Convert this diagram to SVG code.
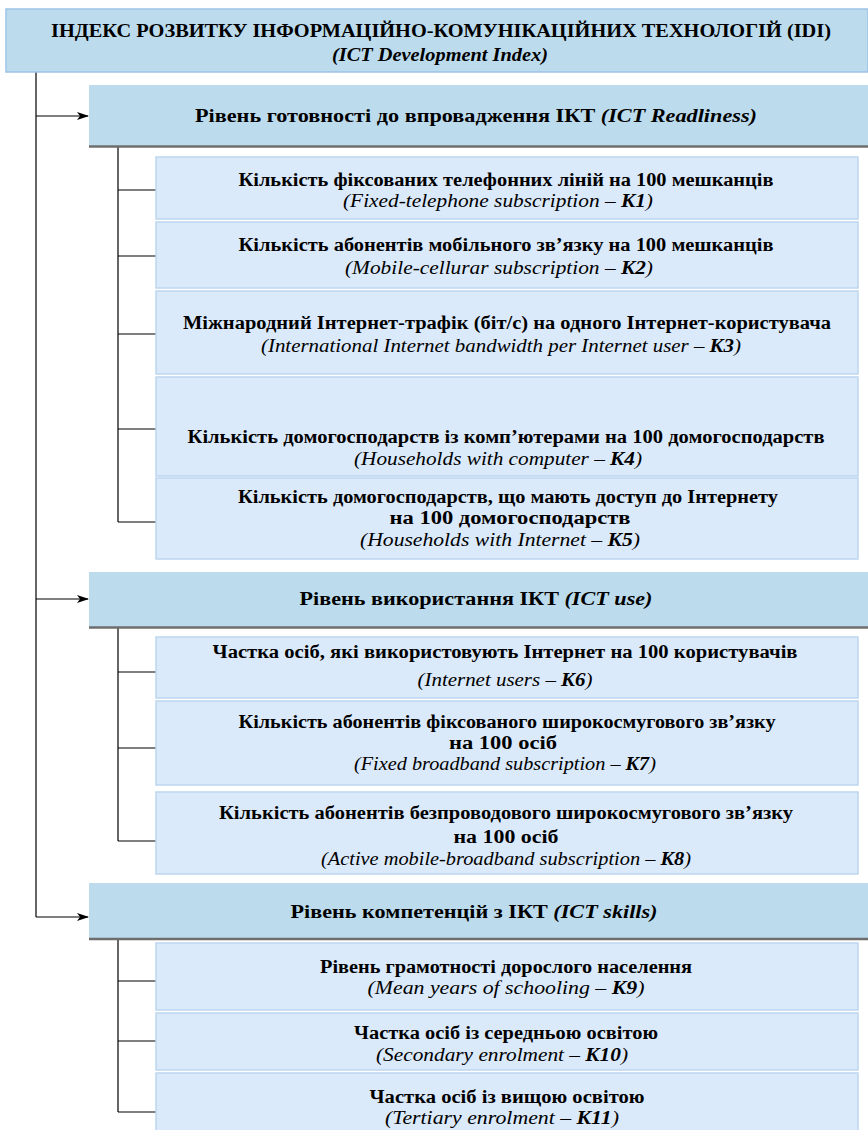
<svg xmlns="http://www.w3.org/2000/svg" width="868" height="1130" viewBox="0 0 868 1130" font-family="Liberation Serif, Times New Roman, DejaVu Serif, serif">
<style>
text{font-size:18px;fill:#000;text-anchor:middle}
.b{font-weight:bold}
.i{font-style:italic}
.top{fill:#bcdcee;stroke:#9cc3e6;stroke-width:1.5}
.lvl{fill:#bcdcee}
.sh{stroke:#6e6e6e;stroke-width:2.5}
.item{fill:#dbeafb;stroke:#bdd6ef;stroke-width:1.5}
.c{stroke:#000;stroke-width:1.2;fill:none}
</style>
<defs>
<marker id="ah" markerUnits="userSpaceOnUse" markerWidth="12" markerHeight="8" refX="11" refY="4" orient="auto">
<path d="M0,0 L12,4 L0,8 L3,4 z" fill="#000"/>
</marker>
</defs>
<rect width="868" height="1130" fill="#fff"/>

<g id="connectors">
<path class="c" d="M36,72 V917"/>
<path class="c" d="M36,116 H88" marker-end="url(#ah)"/>
<path class="c" d="M36,599 H88" marker-end="url(#ah)"/>
<path class="c" d="M36,917 H88" stroke="#555" marker-end="url(#ah)"/>
<path class="c" d="M118,147 V522 M118,190 H156 M118,256 H156 M118,334 H156 M118,429 H156 M118,522 H156"/>
<path class="c" d="M118,628 V841 M118,672 H156 M118,748 H156 M118,841 H156"/>
<path class="c" d="M118,940 V1112 M118,981 H156 M118,1041 H156 M118,1112 H156"/>
</g>

<g id="idi">
<rect class="top" x="6" y="9" width="862" height="63"/>
<text class="b" x="441" y="37" font-family="Liberation Serif, serif" textLength="780" lengthAdjust="spacingAndGlyphs">ІНДЕКС РОЗВИТКУ ІНФОРМАЦІЙНО-КОМУНІКАЦІЙНИХ ТЕХНОЛОГІЙ (IDI)</text>
<text class="b i" x="440" y="61" font-family="Liberation Serif, serif" textLength="216" lengthAdjust="spacingAndGlyphs">(ICT Development Index)</text>
</g>

<g id="readiness">
<rect class="lvl" x="89" y="85" width="779" height="61"/>
<line class="sh" x1="89" y1="146.5" x2="868" y2="146.5"/>
<text class="b" x="476" y="122" textLength="562" lengthAdjust="spacingAndGlyphs">Рівень готовності до впровадження ІКТ <tspan class="i">(ICT Readliness)</tspan></text>
</g>

<g id="k1">
<rect class="item" x="156" y="157" width="702" height="62"/>
<text class="b" x="506" y="186" textLength="535" lengthAdjust="spacingAndGlyphs">Кількість фіксованих телефонних ліній на 100 мешканців</text>
<text class="i" x="498" y="207" textLength="310" lengthAdjust="spacingAndGlyphs">(Fixed-telephone subscription – <tspan class="b">K1</tspan>)</text>
</g>

<g id="k2">
<rect class="item" x="156" y="222" width="702" height="66"/>
<text class="b" x="506" y="251" textLength="535" lengthAdjust="spacingAndGlyphs">Кількість абонентів мобільного зв’язку на 100 мешканців</text>
<text class="i" x="499" y="274" textLength="308" lengthAdjust="spacingAndGlyphs">(Mobile-cellurar subscription – <tspan class="b">K2</tspan>)</text>
</g>

<g id="k3">
<rect class="item" x="156" y="291" width="702" height="83"/>
<text class="b" x="507" y="329" textLength="648" lengthAdjust="spacingAndGlyphs">Міжнародний Інтернет-трафік (біт/с) на одного Інтернет-користувача</text>
<text class="i" x="501" y="352" textLength="480" lengthAdjust="spacingAndGlyphs">(International Internet bandwidth per Internet user – <tspan class="b">K3</tspan>)</text>
</g>

<g id="k4">
<rect class="item" x="156" y="377" width="702" height="99"/>
<text class="b" x="506" y="443" textLength="637" lengthAdjust="spacingAndGlyphs">Кількість домогосподарств із комп’ютерами на 100 домогосподарств</text>
<text class="i" x="498" y="465" textLength="288" lengthAdjust="spacingAndGlyphs">(Households with computer – <tspan class="b">K4</tspan>)</text>
</g>

<g id="k5">
<rect class="item" x="156" y="478" width="702" height="81"/>
<text class="b" x="508" y="503" textLength="540" lengthAdjust="spacingAndGlyphs">Кількість домогосподарств, що мають доступ до Інтернету</text>
<text class="b" x="510" y="524" textLength="241" lengthAdjust="spacingAndGlyphs">на 100 домогосподарств</text>
<text class="i" x="500" y="546" textLength="280" lengthAdjust="spacingAndGlyphs">(Households with Internet – <tspan class="b">K5</tspan>)</text>
</g>

<g id="use">
<rect class="lvl" x="89" y="572" width="779" height="55"/>
<line class="sh" x1="89" y1="627.5" x2="868" y2="627.5"/>
<text class="b" x="476" y="605" textLength="353" lengthAdjust="spacingAndGlyphs">Рівень використання ІКТ <tspan class="i">(ICT use)</tspan></text>
</g>

<g id="k6">
<rect class="item" x="156" y="637" width="702" height="61"/>
<text class="b" x="505" y="658" textLength="585" lengthAdjust="spacingAndGlyphs">Частка осіб, які використовують Інтернет на 100 користувачів</text>
<text class="i" x="505" y="686" textLength="175" lengthAdjust="spacingAndGlyphs">(Internet users – <tspan class="b">K6</tspan>)</text>
</g>

<g id="k7">
<rect class="item" x="156" y="701" width="702" height="84"/>
<text class="b" x="507" y="728" textLength="537" lengthAdjust="spacingAndGlyphs">Кількість абонентів фіксованого широкосмугового зв’язку</text>
<text class="b" x="503" y="749" textLength="108" lengthAdjust="spacingAndGlyphs">на 100 осіб</text>
<text class="i" x="505" y="770" textLength="302" lengthAdjust="spacingAndGlyphs">(Fixed broadband subscription – <tspan class="b">K7</tspan>)</text>
</g>

<g id="k8">
<rect class="item" x="156" y="792" width="702" height="82"/>
<text class="b" x="506" y="819" textLength="574" lengthAdjust="spacingAndGlyphs">Кількість абонентів безпроводового широкосмугового зв’язку</text>
<text class="b" x="506" y="843" textLength="105" lengthAdjust="spacingAndGlyphs">на 100 осіб</text>
<text class="i" x="506" y="865" textLength="370" lengthAdjust="spacingAndGlyphs">(Active mobile-broadband subscription – <tspan class="b">K8</tspan>)</text>
</g>

<g id="skills">
<rect class="lvl" x="89" y="883" width="779" height="55"/>
<line class="sh" x1="89" y1="939" x2="868" y2="939"/>
<text class="b" x="474" y="918" textLength="367" lengthAdjust="spacingAndGlyphs">Рівень компетенцій з ІКТ <tspan class="i">(ICT skills)</tspan></text>
</g>

<g id="k9">
<rect class="item" x="156" y="943" width="702" height="67"/>
<text class="b" x="506" y="973" textLength="372" lengthAdjust="spacingAndGlyphs">Рівень грамотності дорослого населення</text>
<text class="i" x="506" y="994" textLength="277" lengthAdjust="spacingAndGlyphs">(Mean years of schooling – <tspan class="b">K9</tspan>)</text>
</g>

<g id="k10">
<rect class="item" x="156" y="1013" width="702" height="57"/>
<text class="b" x="506" y="1039" textLength="304" lengthAdjust="spacingAndGlyphs">Частка осіб із середньою освітою</text>
<text class="i" x="502" y="1061" textLength="252" lengthAdjust="spacingAndGlyphs">(Secondary enrolment – <tspan class="b">K10</tspan>)</text>
</g>

<g id="k11">
<rect class="item" x="156" y="1073" width="702" height="60"/>
<text class="b" x="507" y="1103" textLength="275" lengthAdjust="spacingAndGlyphs">Частка осіб із вищою освітою</text>
<text class="i" x="502" y="1124" textLength="234" lengthAdjust="spacingAndGlyphs">(Tertiary enrolment – <tspan class="b">K11</tspan>)</text>
</g>
</svg>
